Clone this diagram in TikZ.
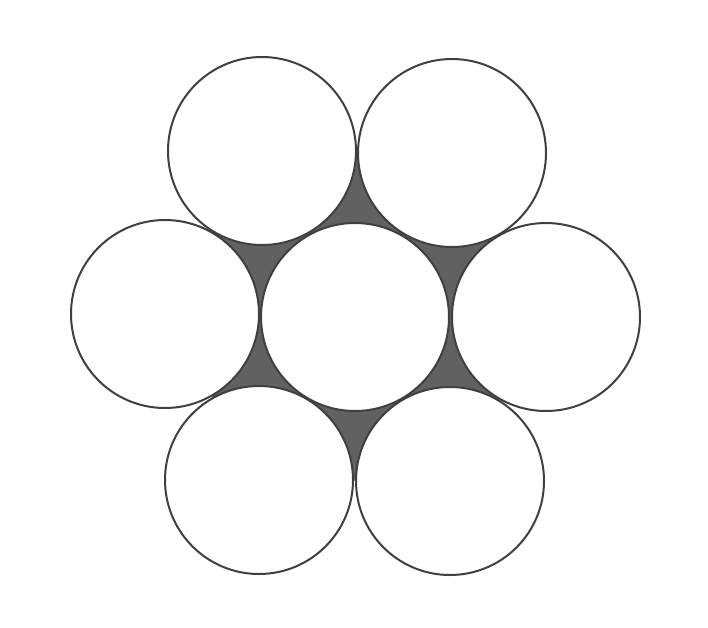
\documentclass[tikz,border=0pt]{standalone}
\begin{document}
\begin{tikzpicture}[x=1pt,y=-1pt,
  wire/.style={circle,draw=black!75,line width=2pt,fill=white,minimum size=188pt,inner sep=0pt,outer sep=0pt}]
\useasboundingbox (0,0) rectangle (708,627);
\coordinate (ptl) at (262,151);
\coordinate (ptr) at (452,153);
\coordinate (pr) at (546,317);
\coordinate (pbr) at (450,481);
\coordinate (pbl) at (259,480);
\coordinate (pl) at (165,314);
\fill[black!62] (ptl) -- (ptr) -- (pr) -- (pbr) -- (pbl) -- (pl) -- cycle;
\node[wire] (c) at (355,317) {};
\node[wire] (tl) at (ptl) {};
\node[wire] (tr) at (ptr) {};
\node[wire] (r) at (pr) {};
\node[wire] (br) at (pbr) {};
\node[wire] (bl) at (pbl) {};
\node[wire] (l) at (pl) {};
\end{tikzpicture}
\end{document}
